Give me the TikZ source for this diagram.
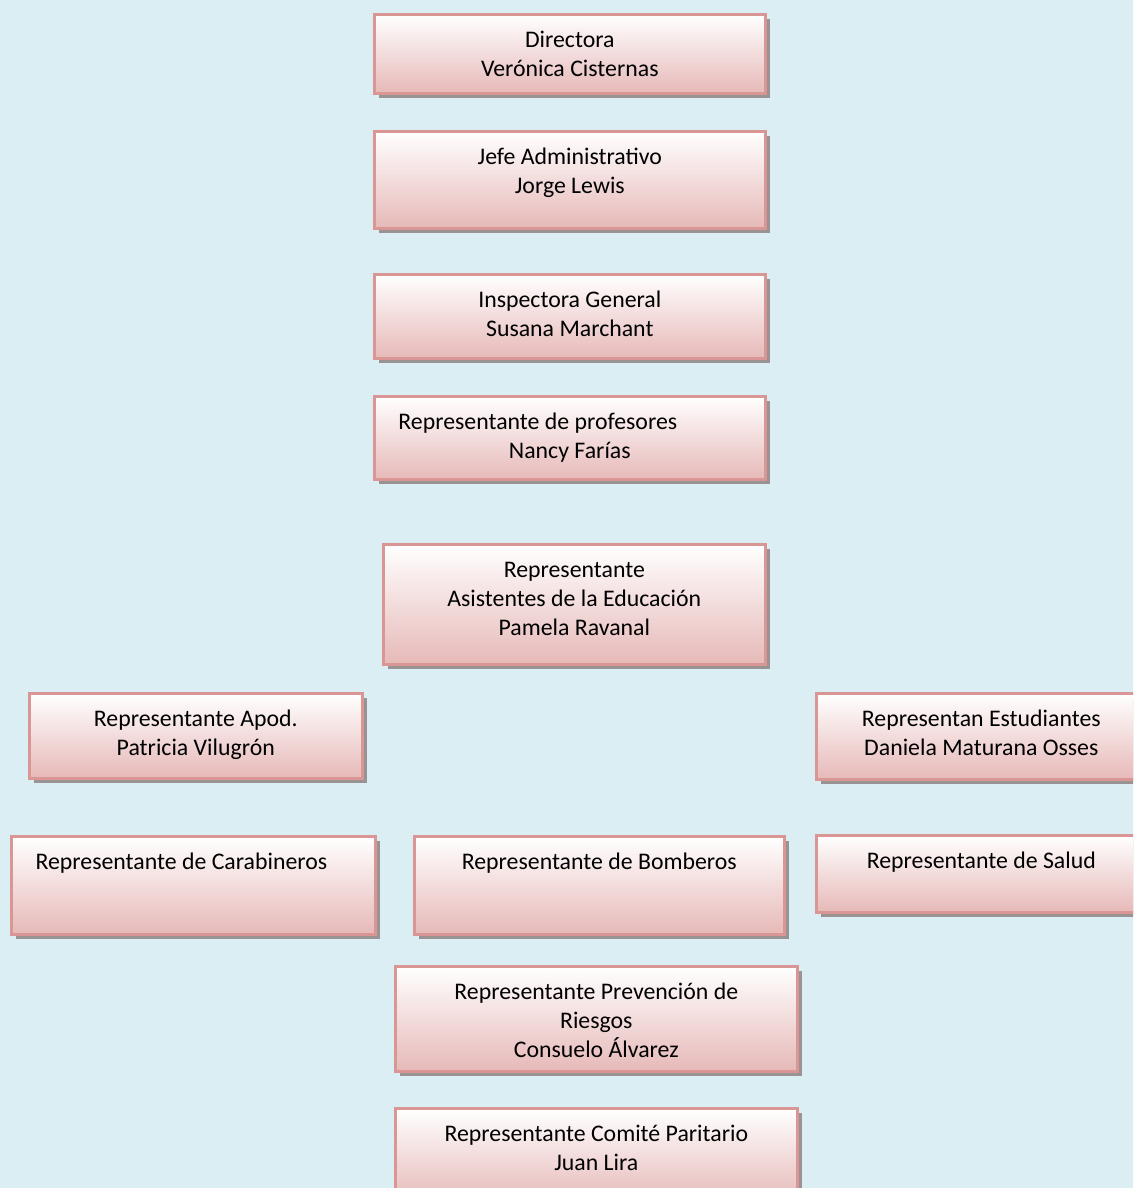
\documentclass[tikz,border=0pt]{standalone}
\usepackage{fontspec}
\setmainfont{Carlito}
\usetikzlibrary{shadows}
\definecolor{bgblue}{HTML}{DAEEF3}
\definecolor{boxpink}{HTML}{E6B9B8}
\definecolor{boxline}{HTML}{D99694}
\definecolor{shadowgray}{HTML}{9A9393}
\tikzset{
    block/.style = {draw=boxline, line width=1.2pt, rectangle, anchor=north west,
        top color=white, bottom color=boxpink,
        drop shadow={shadow xshift=2pt, shadow yshift=-2pt, fill=shadowgray, opacity=1},
        inner ysep=0pt, align=center,
        font=\fontsize{11}{13.4}\selectfont},
    boxsize/.code n args = {3}{\pgfmathsetmacro\bxw{#1*0.462}%
        \pgfmathsetmacro\bxh{15.5+(#3-1)*13.4}\pgfmathsetmacro\bxd{#2*0.462-\bxh}%
        \pgfkeysalso{minimum width=\bxw pt, text height=\bxh pt, text depth=\bxd pt}}
}

\begin{document}
\begin{tikzpicture}[x=0.462pt, y=-0.462pt]
        \useasboundingbox (0,0) rectangle (1133,1188);
        \clip (0,0) rectangle (1133,1188);
        \fill [bgblue] (0,0) rectangle (1133,1188);
        \node [block, boxsize={391}{79}{2}] (dir) at (373,13) {Directora\\Verónica Cisternas};
        \node [block, boxsize={391}{97}{2}] (jefe) at (373,130) {Jefe Administrativo\\Jorge Lewis};
        \node [block, boxsize={391}{84}{2}] (insp) at (373,273) {Inspectora General\\Susana Marchant};
        \node [block, boxsize={391}{83}{2}] (prof) at (373,395) {Representante de profesores\hspace{29.6pt}\mbox{}\\Nancy Farías};
        \node [block, boxsize={382}{120}{3}] (asist) at (382,543) {Representante\\Asistentes de la Educación\\Pamela Ravanal};
        \node [block, boxsize={333}{85}{2}] (apod) at (28,692) {Representante Apod.\\Patricia Vilugrón};
        \node [block, boxsize={330}{86}{2}] (estud) at (815,692) {Representan Estudiantes\\Daniela Maturana Osses};
        \node [block, boxsize={364}{98}{1}] (carab) at (10,835) {Representante de Carabineros\hspace{11pt}\mbox{}};
        \node [block, boxsize={370}{98}{1}] (bomb) at (413,835) {Representante de Bomberos};
        \node [block, boxsize={330}{77}{1}] (salud) at (815,834) {Representante de Salud};
        \node [block, boxsize={402}{105}{3}] (prev) at (394,965) {Representante Prevención de\\Riesgos\\Consuelo Álvarez};
        \node [block, boxsize={402}{95}{2}] (comite) at (394,1107) {Representante Comité Paritario\\Juan Lira};
    \end{tikzpicture}
\end{document}
